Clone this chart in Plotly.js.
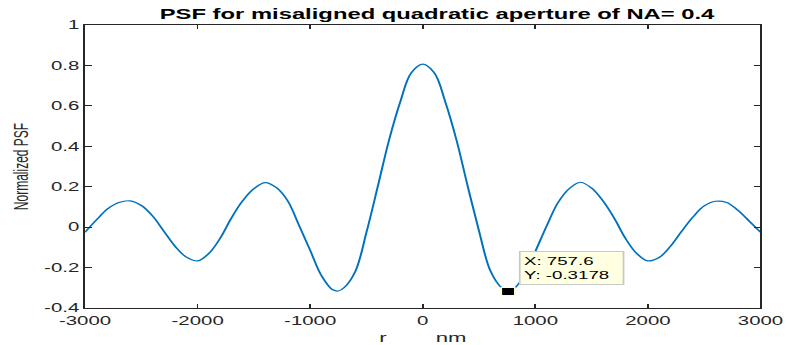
<!DOCTYPE html>
<html>
<head>
<meta charset="utf-8">
<script src="https://cdn.plot.ly/plotly-3.0.1.min.js"></script>
<style>
  html, body { margin: 0; padding: 0; background: #ffffff; overflow: hidden; }
  #wrap { width: 786px; height: 345px; overflow: hidden; }
  #chart { width: 462px; height: 345px; transform: scaleX(1.7013); transform-origin: 0 0; }
</style>
</head>
<body>
<div id="wrap"><div id="chart"></div></div>
<script>
// ---- data ----
const rNm = [-3000, -2900, -2800, -2700, -2600, -2500, -2400, -2300, -2200, -2100,
             -2000, -1900, -1800, -1700, -1600, -1500, -1400, -1300, -1200, -1100,
             -1000, -900, -800, -750, -700, -600, -500, -400, -300, -200, -100, 0,
             100, 200, 300, 400, 500, 600, 700, 757.6, 800, 900,
             1000, 1100, 1200, 1300, 1400, 1500, 1600, 1700, 1800, 1900,
             2000, 2100, 2200, 2300, 2400, 2500, 2600, 2700, 2800, 2900, 3000];
const psf = [-0.025, 0.035, 0.09, 0.122, 0.13, 0.107, 0.055, -0.02, -0.095, -0.148,
             -0.167, -0.13, -0.055, 0.045, 0.13, 0.19, 0.22, 0.195, 0.13, 0.01,
             -0.115, -0.24, -0.31, -0.316, -0.30, -0.22, -0.025, 0.20, 0.43, 0.62, 0.765, 0.806,
             0.765, 0.62, 0.43, 0.20, -0.02, -0.215, -0.30, -0.3178, -0.31, -0.24,
             -0.12, 0.005, 0.12, 0.19, 0.222, 0.193, 0.13, 0.045, -0.055, -0.13,
             -0.167, -0.15, -0.095, -0.02, 0.05, 0.105, 0.128, 0.122, 0.083, 0.03, -0.025];
const tipX = [757.6];
const tipY = [-0.3178];
const xTickVals = [-3000, -2000, -1000, 0, 1000, 2000, 3000];
const xTickText = ['-3000', '-2000', '-1000', '0', '1000', '2000', '3000'];
const yTickVals = [-0.4, -0.2, 0, 0.2, 0.4, 0.6, 0.8, 1];
const yTickText = ['-0.4', '-0.2', '0', '0.2', '0.4', '0.6', '0.8', '1'];
const titleText = 'PSF for misaligned quadratic aperture of NA= 0.4';
const xLabel = '\u00A0\u00A0r\u00A0\u00A0\u00A0\u00A0\u00A0\u00A0\u00A0\u00A0nm';
const yLabel = 'Normalized PSF';

const axisColor = 'rgb(38,38,38)';
const fontFam = '"Liberation Sans", Arial, sans-serif';

const traces = [
  {
    x: rNm, y: psf, type: 'scatter', mode: 'lines',
    line: { color: 'rgb(0,114,189)', width: 1.2, shape: 'spline', smoothing: 1 },
    hoverinfo: 'skip', showlegend: false
  },
  {
    x: tipX, y: tipY, type: 'scatter', mode: 'markers',
    marker: { symbol: 'square', size: 8, color: '#000000', line: { color: 'rgb(255,255,200)', width: 1 } },
    hoverinfo: 'skip', showlegend: false
  }
];

const layout = {
  width: 462, height: 345,
  margin: { l: 50, r: 15, t: 25, b: 37 },
  paper_bgcolor: '#ffffff', plot_bgcolor: '#ffffff',
  font: { family: fontFam, size: 12, color: axisColor },
  showlegend: false,
  title: {
    text: '<b>' + titleText + '</b>',
    font: { family: fontFam, size: 14, color: '#000000' },
    xref: 'container', x: 0.556, xanchor: 'center',
    yref: 'container', y: 0.959, yanchor: 'middle'
  },
  xaxis: {
    range: [-3000, 3000], tickmode: 'array', tickvals: xTickVals, ticktext: xTickText,
    ticks: 'inside', ticklen: 4, tickwidth: 1, tickcolor: axisColor,
    showline: true, linecolor: axisColor, linewidth: 1, mirror: 'ticks',
    showgrid: false, zeroline: false, ticklabelstandoff: 2,
    tickfont: { family: fontFam, size: 12, color: axisColor },
    title: { text: xLabel, font: { family: fontFam, size: 13, color: axisColor }, standoff: 5 },
    automargin: false
  },
  yaxis: {
    range: [-0.4, 1], tickmode: 'array', tickvals: yTickVals, ticktext: yTickText,
    ticks: 'inside', ticklen: 4, tickwidth: 1, tickcolor: axisColor,
    showline: true, linecolor: axisColor, linewidth: 1, mirror: 'ticks',
    showgrid: false, zeroline: false,
    tickfont: { family: fontFam, size: 12, color: axisColor },
    title: { text: yLabel, font: { family: fontFam, size: 12, color: axisColor }, standoff: 6 },
    automargin: false
  },
  annotations: [
    {
      x: tipX[0], y: tipY[0], xref: 'x', yref: 'y',
      text: 'X: ' + tipX[0] + '<br>Y: ' + tipY[0],
      showarrow: false, xanchor: 'left', yanchor: 'bottom',
      xshift: 6.6, yshift: 6, align: 'left',
      width: 56, height: 28, borderpad: 2, borderwidth: 1,
      bgcolor: 'rgb(255,255,225)', bordercolor: 'rgb(200,200,200)',
      font: { family: fontFam, size: 11, color: '#000000' }
    }
  ]
};

Plotly.newPlot('chart', traces, layout, { staticPlot: true, displayModeBar: false });
</script>
</body>
</html>
